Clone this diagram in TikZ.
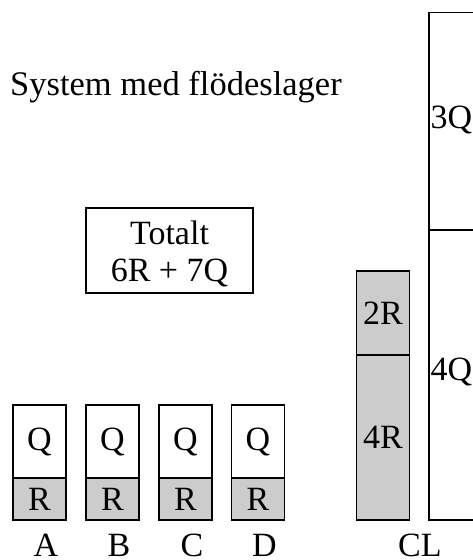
\documentclass[tikz,border=0pt]{standalone}
\usepackage{fontspec}
\setmainfont{Liberation Serif}
\definecolor{boxgray}{RGB}{204,204,204}
\begin{document}
\begin{tikzpicture}[x=1pt,y=-1pt,
  cell/.style={draw=black,line width=1.3pt,inner sep=0pt,font=\fontsize{34}{38}\selectfont},
  lbl/.style={inner sep=0pt,font=\fontsize{34}{38}\selectfont},
  title/.style={inner sep=0pt,font=\fontsize{34.5}{38}\selectfont}]
\useasboundingbox (0,0) rectangle (473,560);
\begin{scope}
\clip (0,0) rectangle (473,560);
% title
\node[title,anchor=base west] (title) at (10,95) {System med flödeslager};
% total box
\node[cell,minimum width=167pt,minimum height=85pt] (tot) at (169.5,250.5) {};
\node[lbl,align=center] (tottxt) at (169.5,254) {Totalt\\[-1pt]6R + 7Q};
% small stores
\foreach \n/\x in {A/39.5,B/112.5,C/185.5,D/258} {
  \node[cell,minimum width=53pt,minimum height=73pt] (q\n) at (\x,441.5) {Q};
  \node[cell,fill=boxgray,minimum width=53pt,minimum height=42pt] (r\n) at (\x,499) {R};
  \node[lbl,anchor=base] (l\n) at ([xshift=6.5pt]\x,556) {\n};
}
% CL gray column
\node[cell,fill=boxgray,minimum width=53pt,minimum height=84pt] (r2) at (383,313) {2R};
\node[cell,fill=boxgray,minimum width=53pt,minimum height=165pt] (r4) at (383,437.5) {4R};
\node[lbl,anchor=base west] (cl) at (398,556) {CL};
% big Q store
\node[cell,minimum width=100pt,minimum height=217.5pt] (q3) at (479,121.25) {};
\node[cell,minimum width=100pt,minimum height=290pt] (q4) at (479,375) {};
\node[lbl,anchor=west] (t3) at ([xshift=2pt,yshift=1pt]q3.west) {3Q};
\node[lbl,anchor=west] (t4) at ([xshift=2pt,yshift=3pt]q4.west) {4Q};
\end{scope}
\end{tikzpicture}
\end{document}
